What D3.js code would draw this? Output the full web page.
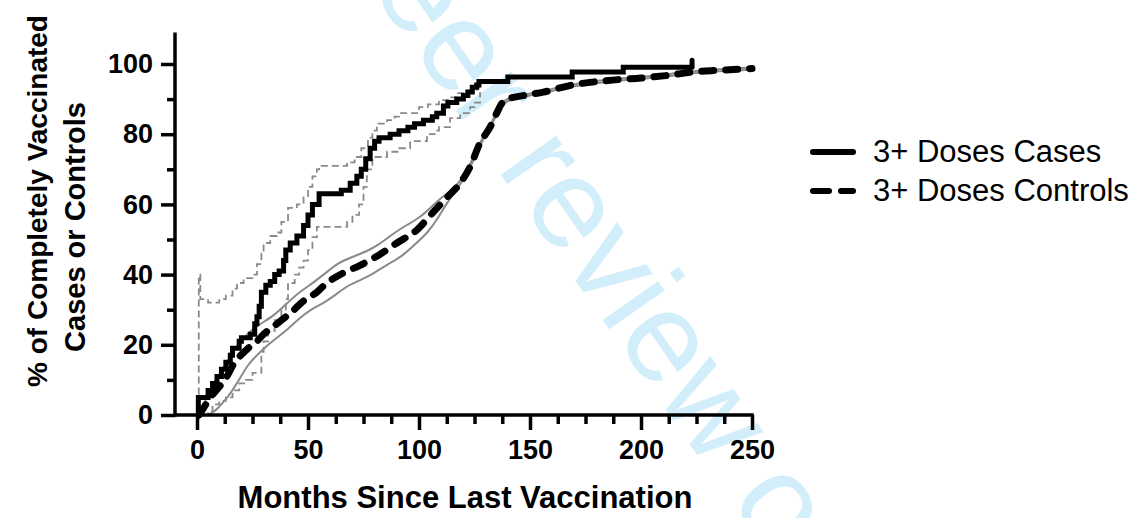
<!DOCTYPE html>
<html>
<head>
<meta charset="utf-8">
<script src="https://cdn.jsdelivr.net/npm/d3@7"></script>
<style>
  body { margin: 0; background: #fff; }
  text { font-family: "Liberation Sans", Arial, sans-serif; }
</style>
</head>
<body>
<div id="chart"></div>
<script>
// data: [months, percent]
var casesKM = [[0.5,0],[0.6,5],[5,7],[7,9],[9,11],[11,13],[13,15],[15,17],[16,19],[19,21],[20,22],[24,23],[26,26],[27,28],[28,31],[29,35],[31,37],[33,38],[35,40],[37,41],[39,44],[40,47],[42,49],[45,51],[48,54],[50,57],[52,60],[55,63],[65,64],[69,66],[72,68],[74,70],[76,73],[78,76],[80,78],[82,79],[87,80],[91,81],[95,82],[98,83],[102,84],[106,85],[108,86],[111,88],[113,89],[117,90],[120,91],[122,92],[124,93.4],[126,94],[127,95],[140,96.3],[169,97.7],[192,99.1],[223,99.1]];
var casesUpper = [[0.5,6],[0.8,40],[1.5,33],[5,32],[10,33],[13,34],[16,36],[18,37.6],[21,39],[25,40],[27,43],[29,46],[30,49],[33,51],[36,52],[38,55],[41,59],[45,60],[48,62],[50,65],[52,68],[54,70],[55,71],[67.6,72],[71,73.5],[74,76],[77,79],[79,81],[81,83],[85.6,84],[89,85],[91,86],[100,87.7],[104,88.5],[109,89.7],[113,90.5],[117,91.7],[123,92.6],[126,93.5],[128,94]];
var casesLower = [[3,0],[5,1],[7,3],[10,4],[13,5],[16,7],[19,9],[22,10],[25,12],[29,18],[30,21],[32,24],[35,27],[38,30],[40,33],[41,37.6],[44,40],[46,42],[48,44],[50,47],[52,50.7],[54,53.6],[67.6,55],[70,57],[73,60],[75,65],[76.5,70],[79,73.5],[85.6,75],[91,76],[96,78],[103.6,80],[107,81],[109,82],[114,84.6],[118.5,86],[123,87.7],[125,89],[127.5,91.7],[128,91.7]];
var casesCensor = [[223,99.1]];

var controls = [[1,0],[3,2],[6,5],[10,8],[13.5,11],[16,14],[19,16.5],[23,19],[27,21],[30,23],[34,25],[38,27],[42,29],[48,32.5],[54,35],[58.5,37.6],[66,40.5],[73,42.5],[82,45.6],[90,49],[99,52.7],[106,57.5],[112.6,62],[118.5,66],[123,70.7],[127.5,77.5],[132,82],[135,86],[137,88.5],[140,90],[147,91],[156,92],[169,94],[185,95.3],[200,96],[214,96.9],[223,97.7],[235,98.2],[250,98.7]];
var controlsUpper = [[3,3],[6,7.5],[10,11.5],[13.5,15],[17,19],[21,22],[25,24.5],[30,26.5],[35,28.5],[40,31.5],[46,35],[52,37.5],[58,40.5],[64,43.5],[70,45],[76,46.5],[82,48.5],[88,51.5],[94,54],[100,56],[106,59.5],[110,62],[114,63.5],[118.5,66.5],[123,71.2],[127.5,77.9],[132,82.4],[135,86.4],[137,88.9],[140,90.3],[147,91.3],[156,92.3],[169,94.3],[185,95.6],[200,96.3],[214,97.2],[223,98],[235,98.5],[250,99]];
var controlsLower = [[5,0],[8,1],[11,3],[15,6],[19,10],[23,14.5],[27,17],[31,19.5],[36,22],[41,24.5],[46,27.5],[51,30],[56,31.5],[62,34],[68,37],[74,38.5],[80,40.5],[86,43],[92,45],[98,48.5],[104,52],[108,55.5],[112.6,60.5],[118.5,65.5],[123,70.2],[127.5,77.1],[132,81.6],[135,85.6],[137,88.1],[140,89.7],[147,90.7],[156,91.7],[169,93.7],[185,95],[200,95.7],[214,96.6],[223,97.4],[235,97.9],[250,98.4]];

var xMajor = [0, 50, 100, 150, 200, 250];
var xMinor = d3.range(12.5, 250, 12.5).filter(function (d) { return d % 50 !== 0; });
var yMajor = [0, 20, 40, 60, 80, 100];
var yMinor = [10, 30, 50, 70, 90];

var legendLabels = ["3+ Doses Cases", "3+ Doses Controls"];

var width = 1144;
var height = 518;

var x = d3.scaleLinear().domain([0, 250]).range([197, 752]);
var y = d3.scaleLinear().domain([0, 100]).range([415, 64]);

var svg = d3.select('#chart').append('svg')
  .attr('width', width).attr('height', height);

// watermark behind everything
svg.append('text')
  .attr('transform', 'translate(198,-258) rotate(55)')
  .attr('font-size', 128)
  .attr('fill', '#d3eefb')
  .text('For peer review only');

var line = d3.line().x(function (d) { return x(d[0]); }).y(function (d) { return y(d[1]); });

// controls CI (thin grey solid)
[controlsUpper, controlsLower].forEach(function (s) {
  svg.append('path').datum(s)
    .attr('d', line.curve(d3.curveBasis))
    .attr('fill', 'none').attr('stroke', '#8a8a8a').attr('stroke-width', 2);
});

// cases CI (thin grey dashed steps)
[casesUpper, casesLower].forEach(function (s) {
  svg.append('path').datum(s)
    .attr('d', line.curve(d3.curveStepAfter))
    .attr('fill', 'none').attr('stroke', '#8a8a8a').attr('stroke-width', 1.8)
    .attr('stroke-dasharray', '7,4');
});

// controls
svg.append('path').datum(controls)
  .attr('d', line.curve(d3.curveMonotoneX))
  .attr('fill', 'none').attr('stroke', '#000').attr('stroke-width', 7)
  .attr('stroke-linecap', 'round')
  .attr('stroke-dasharray', '12,12');

// cases
svg.append('path').datum(casesKM)
  .attr('d', line.curve(d3.curveStepAfter))
  .attr('fill', 'none').attr('stroke', '#000').attr('stroke-width', 5);

svg.selectAll('.censor').data(casesCensor).join('line')
  .attr('class', 'censor')
  .attr('x1', function (d) { return x(d[0]); }).attr('x2', function (d) { return x(d[0]); })
  .attr('y1', function (d) { return y(d[1]); }).attr('y2', function (d) { return y(d[1] + 2); })
  .attr('stroke', '#000').attr('stroke-width', 5).attr('stroke-linecap', 'round');

// axes
var axisColor = '#000';
var fontTick = 27;

svg.append('g').attr('transform', 'translate(175,0)')
  .call(d3.axisLeft(y).tickValues(yMajor).tickSize(14).tickPadding(8));
svg.append('g').attr('transform', 'translate(175,0)')
  .call(d3.axisLeft(y).tickValues(yMinor).tickSize(8).tickFormat(''));

svg.append('g').attr('transform', 'translate(0,415)')
  .call(d3.axisBottom(x).tickValues(xMajor).tickSize(15).tickPadding(10));
svg.append('g').attr('transform', 'translate(0,415)')
  .call(d3.axisBottom(x).tickValues(xMinor).tickSize(9).tickFormat(''));

svg.selectAll('.domain').remove();
svg.selectAll('.tick line').attr('stroke', axisColor).attr('stroke-width', 3.5);
svg.selectAll('.tick text')
  .attr('font-family', '"Liberation Sans", Arial, sans-serif')
  .attr('font-size', fontTick).attr('font-weight', 'bold').attr('fill', '#000');

// axis lines
svg.append('line')
  .attr('x1', 175).attr('x2', 175)
  .attr('y1', y(0) + 1.75).attr('y2', y(109))
  .attr('stroke', axisColor).attr('stroke-width', 3.5);
svg.append('line')
  .attr('x1', x(-10)).attr('x2', x(250) + 1.75)
  .attr('y1', 415).attr('y2', 415)
  .attr('stroke', axisColor).attr('stroke-width', 3.5);

// axis titles
svg.append('text')
  .attr('x', 465).attr('y', 508)
  .attr('text-anchor', 'middle')
  .attr('font-size', 31).attr('font-weight', 'bold')
  .text('Months Since Last Vaccination');

var yTitle = svg.append('g').attr('transform', 'rotate(-90)')
  .attr('font-weight', 'bold').attr('text-anchor', 'middle');
yTitle.append('text').attr('x', -201).attr('y', 47).attr('font-size', 28).text('% of Completely Vaccinated');
yTitle.append('text').attr('x', -227).attr('y', 85).attr('font-size', 29).text('Cases or Controls');

// legend
var legend = svg.append('g');
legendLabels.forEach(function (label, i) {
  var ly = 152 + i * 39;
  legend.append('line')
    .attr('x1', 813).attr('x2', 853)
    .attr('y1', ly).attr('y2', ly)
    .attr('stroke', '#000').attr('stroke-width', 6)
    .attr('stroke-linecap', 'round')
    .attr('stroke-dasharray', i === 1 ? '16,12' : null);
  legend.append('text')
    .attr('x', 873).attr('y', ly + 10)
    .attr('font-size', 31)
    .text(label);
});
</script>
</body>
</html>
